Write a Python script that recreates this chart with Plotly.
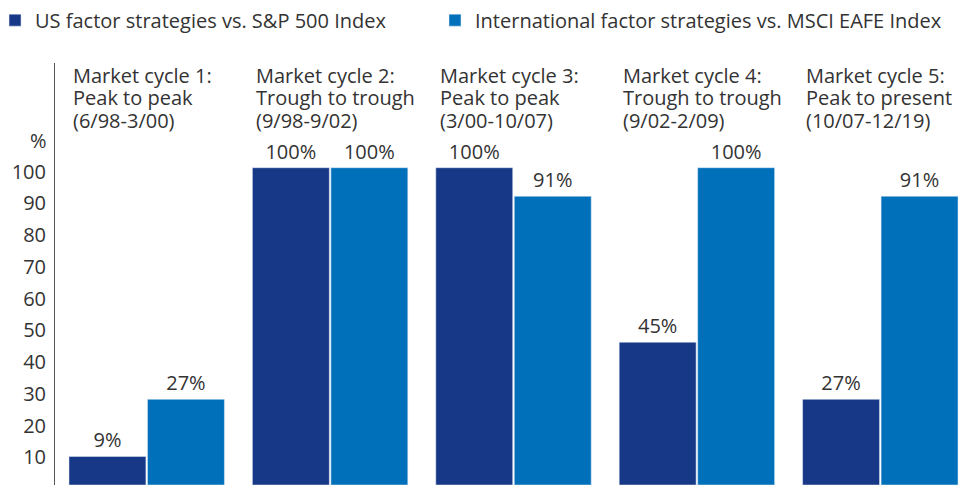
import plotly.graph_objects as go

categories = ["c1", "c2", "c3", "c4", "c5"]
headers = [
    ["Market cycle 1:", "Peak to peak", "(6/98-3/00)"],
    ["Market cycle 2:", "Trough to trough", "(9/98-9/02)"],
    ["Market cycle 3:", "Peak to peak", "(3/00-10/07)"],
    ["Market cycle 4:", "Trough to trough", "(9/02-2/09)"],
    ["Market cycle 5:", "Peak to present", "(10/07-12/19)"],
]
us_values = [9, 100, 100, 45, 27]
intl_values = [27, 100, 91, 100, 91]
us_name = "US factor strategies vs. S&P 500 Index"
intl_name = "International factor strategies vs. MSCI EAFE Index"
y_ticks = [10, 20, 30, 40, 50, 60, 70, 80, 90, 100]

FONT = "Open Sans"
TXT = "#333333"

fig = go.Figure()
fig.add_trace(go.Bar(
    x=categories, y=us_values, name=us_name, marker_color="#163887",
    text=[f"{v}%" for v in us_values], textposition="outside", cliponaxis=False,
    textfont=dict(size=20, color=TXT, family=FONT), legend="legend",
))
fig.add_trace(go.Bar(
    x=categories, y=intl_values, name=intl_name, marker_color="#0070BB",
    text=[f"{v}%" for v in intl_values], textposition="outside", cliponaxis=False,
    textfont=dict(size=20, color=TXT, family=FONT), legend="legend2",
))

for cat, lines in zip(categories, headers):
    for i, line in enumerate(lines):
        fig.add_annotation(
            x=cat, xref="x", xshift=-76, y=1, yref="paper", yanchor="middle",
            yshift=-12 - 22.5 * i,
            xanchor="left", align="left", text=line, showarrow=False,
            font=dict(size=20, color=TXT, family=FONT),
        )

fig.add_annotation(x=-0.0185, xref="paper", xanchor="center",
                   y=0.8175, yref="paper", yanchor="middle",
                   text="%", showarrow=False,
                   font=dict(size=20, color=TXT, family=FONT))

leg_common = dict(orientation="h", xanchor="left", yref="container", y=0.975,
                  yanchor="middle", font=dict(size=20, color=TXT, family=FONT),
                  itemclick=False, bgcolor="rgba(0,0,0,0)")

fig.update_layout(
    width=979, height=485,
    margin=dict(l=47, r=15, t=55, b=8, autoexpand=False),
    paper_bgcolor="white", plot_bgcolor="white",
    barmode="group", bargap=0.144, bargroupgap=0.02,
    font=dict(family=FONT, size=20, color=TXT),
    showlegend=True,
    legend=dict(x=-0.0654, **leg_common),
    legend2=dict(x=0.4144, **leg_common),
    uniformtext=dict(minsize=20, mode="show"),
)
fig.update_xaxes(showticklabels=False, showline=False, showgrid=False, zeroline=False)
fig.update_yaxes(range=[0, 133], tickvals=y_ticks, showgrid=False, zeroline=False,
                 showline=True, linecolor="#555555", linewidth=1, automargin=False,
                 tickfont=dict(size=20, color=TXT, family=FONT),
                 ticklabelshift=4, ticklabelstandoff=4)

fig.write_html("out.html")
